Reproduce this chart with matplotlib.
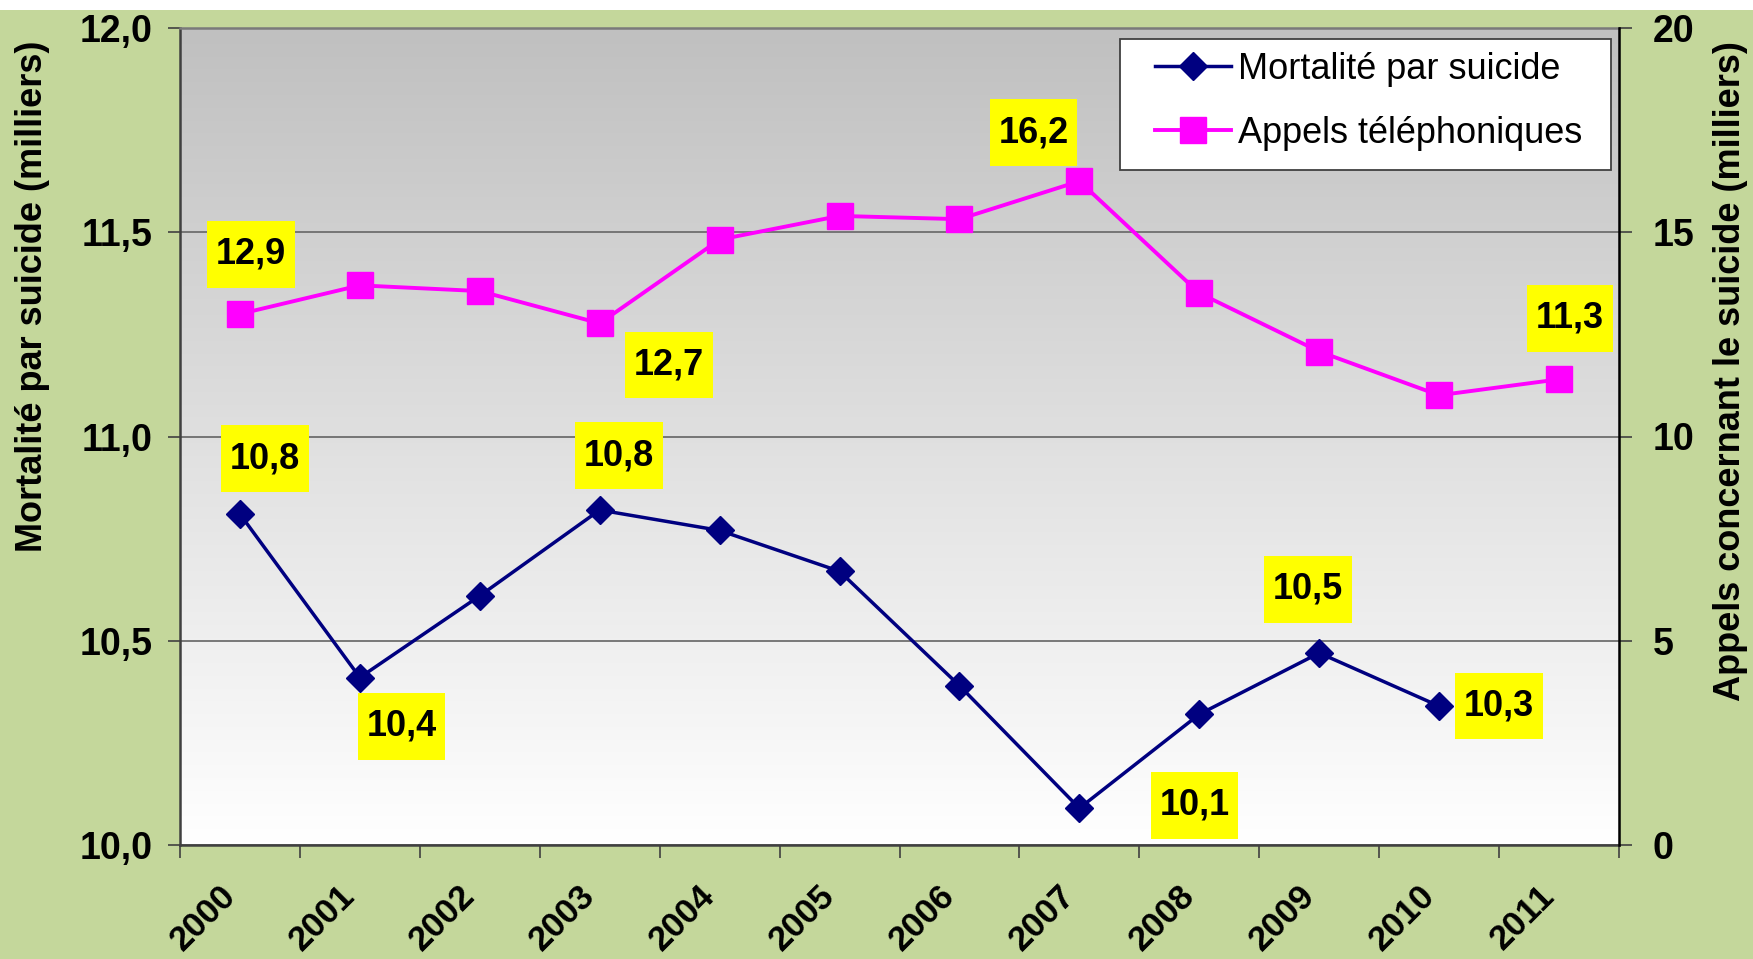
import matplotlib.pyplot as plt
import numpy as np
from matplotlib.colors import LinearSegmentedColormap
from matplotlib.patches import Rectangle
from matplotlib.path import Path
from matplotlib.ticker import FuncFormatter, FixedLocator
from matplotlib.transforms import ScaledTranslation

plt.rcParams["font.family"] = ["Liberation Sans", "DejaVu Sans"]

annees = ["2000", "2001", "2002", "2003", "2004", "2005",
          "2006", "2007", "2008", "2009", "2010", "2011"]
# mortalité par suicide (milliers), pas de valeur pour 2011
mortalite = [10.81, 10.41, 10.61, 10.82, 10.77, 10.67,
             10.39, 10.09, 10.32, 10.47, 10.34, np.nan]
# appels téléphoniques concernant le suicide (milliers)
appels = [13.0, 13.7, 13.56, 12.77, 14.82, 15.4,
          15.32, 16.25, 13.51, 12.08, 11.01, 11.4]

etiquettes_mortalite = ["10,8", "10,4", "", "10,8", "", "", "", "10,1", "", "10,5", "10,3", ""]
etiquettes_appels = ["12,9", "", "", "12,7", "", "", "", "16,2", "", "", "", "11,3"]

# décalage des étiquettes (points)
decal_mortalite = {0: (18, 40), 1: (30, -35), 3: (14, 39), 7: (83, 2), 9: (-8, 46), 10: (43, 0)}
decal_appels = {0: (8, 43), 3: (50, -30), 7: (-33, 35), 11: (8, 44)}

VERT = "#c4d79b"
BLEU = "#000080"
MAGENTA = "#ff00ff"
FS = 27


def virgule(fmt):
    return FuncFormatter(lambda v, _: format(v, fmt).replace(".", ","))


def boite(x0, y0, w, h, mutation_size):
    # cadre jaune plus haut que large autour du texte
    px, py = 0.24 * mutation_size, 0.44 * mutation_size
    pts = [(x0 - px, y0 - py), (x0 + w + px, y0 - py), (x0 + w + px, y0 + h + py),
           (x0 - px, y0 + h + py), (x0 - px, y0 - py)]
    return Path(pts, closed=True)


def etiqueter(ax, y, textes, decal):
    for i, txt in enumerate(textes):
        if not txt:
            continue
        ax.annotate(txt, (i, y[i]), xytext=decal[i], textcoords="offset points",
                    ha="center", va="center", fontsize=26, fontweight="bold",
                    bbox=dict(boxstyle=boite, fc="#ffff00", ec="none"), zorder=6)


fig = plt.figure(figsize=(17.53, 9.59), dpi=100, facecolor=VERT)
fig.patches.append(Rectangle((0, 1 - 10 / 959), 1, 10 / 959, transform=fig.transFigure,
                             fc="white", ec="none"))
ax = fig.add_axes([180 / 1753, 1 - 845 / 959, 1439 / 1753, 817 / 959])
ax2 = ax.twinx()

x = np.arange(len(annees))

# fond dégradé gris -> blanc
cmap = LinearSegmentedColormap.from_list("fond", ["#c0c0c0", "#ffffff"])
ax.imshow(np.linspace(0, 1, 256).reshape(-1, 1), extent=[0, 1, 0, 1], transform=ax.transAxes,
          cmap=cmap, aspect="auto", zorder=0)

l1, = ax.plot(x, mortalite, color=BLEU, lw=2.5, marker="D", ms=14, zorder=4,
              label="Mortalité par suicide")
l2, = ax2.plot(x, appels, color=MAGENTA, lw=2.8, marker="s", ms=19, zorder=4,
               label="Appels téléphoniques")

etiqueter(ax, mortalite, etiquettes_mortalite, decal_mortalite)
etiqueter(ax2, appels, etiquettes_appels, decal_appels)

ax.set_xlim(-0.5, len(annees) - 0.5)
ax.set_ylim(10.0, 12.0)
ax.set_yticks(np.arange(10.0, 12.01, 0.5))
ax.yaxis.set_major_formatter(virgule(".1f"))
ax2.set_ylim(0, 20)
ax2.set_yticks(np.arange(0, 21, 5))

# années au centre, graduations entre les catégories
ax.set_xticks(x)
ax.set_xticklabels(annees)
ax.xaxis.set_minor_locator(FixedLocator(np.arange(-0.5, len(annees), 1.0)))
ax.tick_params(axis="x", which="major", length=0, pad=33, labelsize=25)
ax.tick_params(axis="x", which="minor", length=9, width=1.2, color="#404040")
decal_x = ScaledTranslation(-7 / 72, 0, fig.dpi_scale_trans)
for lab in ax.get_xticklabels():
    lab.set_rotation(45)
    lab.set_ha("right")
    lab.set_va("center")
    lab.set_rotation_mode("anchor")
    lab.set_fontweight("bold")
    lab.set_transform(lab.get_transform() + decal_x)

ax.tick_params(axis="y", length=9, width=1.2, color="#404040", pad=11, labelsize=FS)
ax2.tick_params(axis="y", length=9, width=1.2, color="#404040", pad=15, labelsize=FS)
for lab in ax.get_yticklabels() + ax2.get_yticklabels():
    lab.set_fontweight("bold")

ax.yaxis.grid(True, color="#6e6e6e", lw=1.3)
ax.set_axisbelow(True)

for s in ["left", "bottom"]:
    ax.spines[s].set_color("#404040")
    ax.spines[s].set_linewidth(1.8)
ax.spines["top"].set_color("#7a7a7a")
ax.spines["top"].set_linewidth(1.8)
for s in ["left", "bottom", "top"]:
    ax2.spines[s].set_visible(False)
ax2.spines["right"].set_color("black")
ax2.spines["right"].set_linewidth(1.8)

fig.text(33 / 1753, 1 - 41 / 959, "Mortalité par suicide (milliers)", rotation=90,
         ha="center", va="top", fontsize=26, fontweight="bold")
fig.text(1731 / 1753, 1 - 41 / 959, "Appels concernant le suicide (milliers)", rotation=90,
         ha="center", va="top", fontsize=26, fontweight="bold")

# cadre de légende dessiné à part, la légende elle-même sans cadre
ax2.add_patch(Rectangle(((1120 - 180) / 1439, (845 - 170) / 817), 491 / 1439, 131 / 817,
                        transform=ax2.transAxes, fc="white", ec="#404040", lw=1.3, zorder=9))
leg = ax2.legend(handles=[l1, l2], loc="upper left",
                 bbox_to_anchor=((1155 - 180) / 1439, (845 - 52) / 817),
                 borderaxespad=0, borderpad=0, fontsize=26, frameon=False,
                 handlelength=2.1, handletextpad=0.2, labelspacing=0.8)
leg.set_zorder(10)

fig.savefig("out.png", dpi=100, facecolor=fig.get_facecolor())
